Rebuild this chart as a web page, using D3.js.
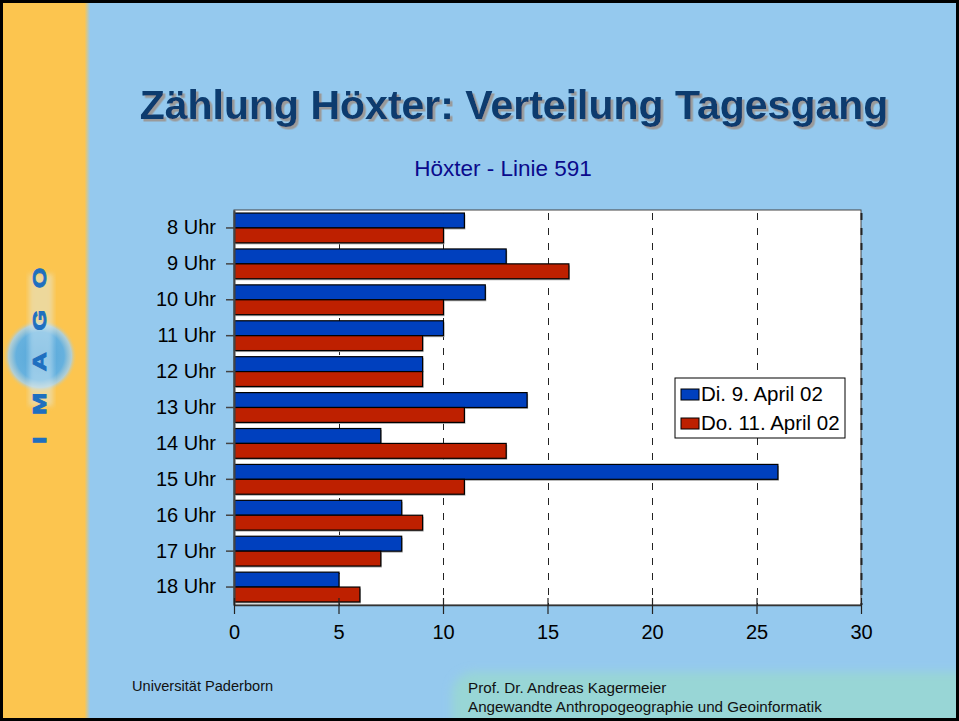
<!DOCTYPE html>
<html>
<head>
<meta charset="utf-8">
<script src="https://cdn.jsdelivr.net/npm/d3@7"></script>
<style>
  html, body { margin: 0; padding: 0; background: #fff; }
  svg { display: block; font-family: "Liberation Sans", Arial, sans-serif; }
</style>
</head>
<body>
<svg id="slide" width="959" height="721"></svg>
<script>
// Daten: Zählung Höxter, Linie 591
var hours = ["8 Uhr", "9 Uhr", "10 Uhr", "11 Uhr", "12 Uhr", "13 Uhr", "14 Uhr", "15 Uhr", "16 Uhr", "17 Uhr", "18 Uhr"];
var seriesNames = ["Di. 9. April 02", "Do. 11. April 02"];
var tuesday = [11, 13, 12, 10, 9, 14, 7, 26, 8, 8, 5];
var thursday = [10, 16, 10, 9, 9, 11, 13, 11, 9, 7, 6];
var xTicks = [0, 5, 10, 15, 20, 25, 30];

var colors = ["#0040BE", "#BE2000"];

var svg = d3.select("#slide");
var defs = svg.append("defs");

// --- slide background ---
var edge = defs.append("linearGradient").attr("id", "edge")
    .attr("x1", "0").attr("x2", "1").attr("y1", "0").attr("y2", "0");
edge.append("stop").attr("offset", "0.94").attr("stop-color", "#FCC54F");
edge.append("stop").attr("offset", "1").attr("stop-color", "#95C9EE");

var glow = defs.append("radialGradient").attr("id", "glow");
glow.append("stop").attr("offset", "0").attr("stop-color", "#55A6D8");
glow.append("stop").attr("offset", "0.65").attr("stop-color", "#66B1DE");
glow.append("stop").attr("offset", "0.85").attr("stop-color", "#A6D0EA").attr("stop-opacity", 0.85);
glow.append("stop").attr("offset", "1").attr("stop-color", "#FCC54F").attr("stop-opacity", 0);

defs.append("filter").attr("id", "soft").attr("x", "-20%").attr("y", "-50%").attr("width", "140%").attr("height", "200%")
  .append("feGaussianBlur").attr("stdDeviation", 5);
defs.append("filter").attr("id", "soft2")
  .append("feGaussianBlur").attr("stdDeviation", 2.5);
defs.append("filter").attr("id", "drop").attr("x", "-5%").attr("y", "-20%").attr("width", "110%").attr("height", "140%")
  .append("feDropShadow").attr("dx", 2.5).attr("dy", 2.5).attr("stdDeviation", 0.4)
    .attr("flood-color", "#9A9A9A").attr("flood-opacity", 1);

svg.append("rect").attr("width", 959).attr("height", 721).attr("fill", "#95C9EE");
svg.append("rect").attr("x", 0).attr("y", 0).attr("width", 90).attr("height", 721).attr("fill", "url(#edge)");

// footer panel
svg.append("rect")
    .attr("x", 452).attr("y", 672).attr("width", 540).attr("height", 70).attr("rx", 22)
    .attr("fill", "#98D6D6").attr("filter", "url(#soft)");

// logo
var logo = svg.append("g").attr("transform", "translate(40,356)");
logo.append("circle").attr("r", 37).attr("fill", "url(#glow)");
logo.append("rect").attr("x", -11).attr("y", -82).attr("width", 24).attr("height", 132)
    .attr("fill", "#DDEFF8").attr("opacity", 0.45).attr("filter", "url(#soft2)");
logo.append("text")
    .attr("transform", "translate(6,88) rotate(-90) scale(1.4,1)")
    .attr("font-size", 19).attr("font-weight", "bold")
    .attr("letter-spacing", 15.4)
    .attr("fill", "#1E6FC0")
    .attr("stroke", "#1E6FC0").attr("stroke-width", 0.8)
    .text("IMAGO");

// --- titles ---
svg.append("text")
    .attr("x", 514).attr("y", 119)
    .attr("text-anchor", "middle")
    .attr("font-size", 41).attr("font-weight", "bold")
    .attr("fill", "#083A6E")
    .attr("filter", "url(#drop)")
    .text("Zählung Höxter: Verteilung Tagesgang");

svg.append("text")
    .attr("x", 503).attr("y", 176)
    .attr("text-anchor", "middle")
    .attr("font-size", 22.5)
    .attr("fill", "#0A0A8C")
    .text("Höxter - Linie 591");

// --- chart ---
var margin = {top: 210, left: 234},
    width = 861 - 234,
    height = 605 - 210;

var g = svg.append("g").attr("transform", "translate(" + margin.left + "," + margin.top + ")");

var x = d3.scaleLinear().domain([0, 30]).range([0, width]);
var y = d3.scaleBand().domain(hours).range([0, height]).paddingInner(0.17).paddingOuter(0.085);
var sub = d3.scaleBand().domain([0, 1]).range([0, y.bandwidth()]);

g.append("rect").attr("width", width).attr("height", height)
    .attr("fill", "#fff").attr("stroke", "#444").attr("stroke-width", 1);

// gridlines
g.selectAll(".grid")
  .data(xTicks.slice(1))
  .enter().append("line")
    .attr("class", "grid")
    .attr("x1", function(d) { return Math.round(x(d)) + 0.5; })
    .attr("x2", function(d) { return Math.round(x(d)) + 0.5; })
    .attr("y1", 3).attr("y2", height)
    .attr("stroke", "#222")
    .attr("stroke-width", function(d) { return d === 30 ? 2 : 1; })
    .attr("stroke-dasharray", "7,8");

var rows = hours.map(function(h, i) { return {hour: h, values: [tuesday[i], thursday[i]]}; });

var group = g.selectAll(".row")
  .data(rows)
  .enter().append("g")
    .attr("class", "row")
    .attr("transform", function(d) { return "translate(0," + y(d.hour) + ")"; });

// shadow
group.selectAll(".shadow")
  .data(function(d) { return d.values; })
  .enter().append("rect")
    .attr("class", "shadow")
    .attr("x", 1.5)
    .attr("y", function(d, i) { return sub(i) + 1.5; })
    .attr("width", function(d) { return x(d); })
    .attr("height", sub.bandwidth())
    .attr("fill", "#A8A8A8");

group.selectAll(".bar")
  .data(function(d) { return d.values; })
  .enter().append("rect")
    .attr("class", "bar")
    .attr("x", 0.5)
    .attr("y", function(d, i) { return sub(i); })
    .attr("width", function(d) { return x(d); })
    .attr("height", sub.bandwidth())
    .attr("fill", function(d, i) { return colors[i]; })
    .attr("stroke", "#000")
    .attr("stroke-width", 1.2);

// axes
var yAxis = g.append("g")
    .call(d3.axisLeft(y).tickSize(8).tickSizeOuter(0).tickPadding(10));
yAxis.select(".domain").attr("stroke", "#444").attr("stroke-width", 2);
yAxis.selectAll(".tick line").attr("stroke", "#444").attr("stroke-width", 1.5);
yAxis.selectAll("text").attr("font-size", 20).attr("fill", "#000")
    .attr("font-family", "'Liberation Sans', Arial, sans-serif");

var xAxis = g.append("g")
    .attr("transform", "translate(0," + height + ")")
    .call(d3.axisBottom(x).tickValues(xTicks).tickSize(8).tickSizeOuter(0).tickPadding(12));
xAxis.select(".domain").attr("stroke", "#333").attr("stroke-width", 1.5);
xAxis.selectAll(".tick line").attr("y1", -7).attr("y2", 9).attr("stroke", "#222").attr("stroke-width", 1.2);
xAxis.selectAll("text").attr("font-size", 20).attr("fill", "#000")
    .attr("font-family", "'Liberation Sans', Arial, sans-serif");

// legend
var legend = svg.append("g").attr("transform", "translate(675,378)");
legend.append("rect").attr("width", 170).attr("height", 60)
    .attr("fill", "#fff").attr("stroke", "#000").attr("stroke-width", 1);
var item = legend.selectAll(".item")
  .data(seriesNames)
  .enter().append("g")
    .attr("class", "item")
    .attr("transform", function(d, i) { return "translate(6," + (11 + i * 29) + ")"; });
item.append("rect").attr("width", 18).attr("height", 11)
    .attr("fill", function(d, i) { return colors[i]; })
    .attr("stroke", "#000").attr("stroke-width", 1);
item.append("text").attr("x", 20).attr("y", 12)
    .attr("font-size", 20.5).attr("fill", "#000")
    .text(function(d) { return d; });

// footer
svg.append("text").attr("x", 132).attr("y", 691)
    .attr("font-size", 14.6).attr("fill", "#111")
    .text("Universität Paderborn");
svg.append("text").attr("x", 468).attr("y", 693)
    .attr("font-size", 15.2).attr("fill", "#111")
    .text("Prof. Dr. Andreas Kagermeier");
svg.append("text").attr("x", 468).attr("y", 712)
    .attr("font-size", 15.2).attr("fill", "#111")
    .text("Angewandte Anthropogeographie und Geoinformatik");

// frame
svg.append("rect").attr("x", 1.5).attr("y", 1.5).attr("width", 956).attr("height", 718)
    .attr("fill", "none").attr("stroke", "#000").attr("stroke-width", 3);
</script>
</body>
</html>
